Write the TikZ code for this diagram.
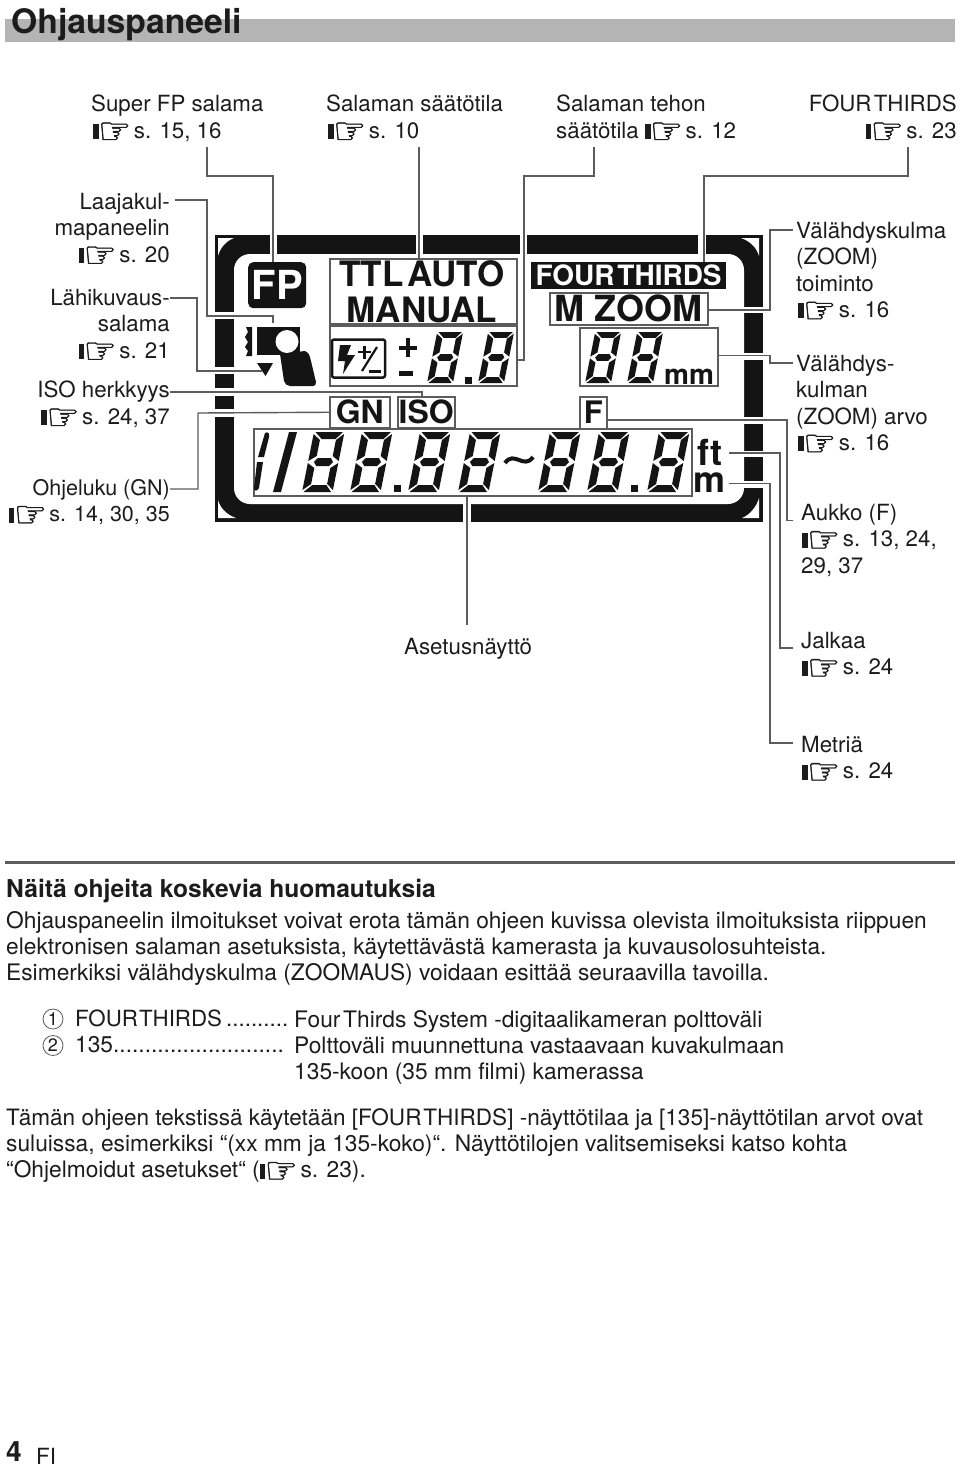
\documentclass[tikz,border=0pt]{standalone}
\usepackage{fontspec}
\setmainfont{TeX Gyre Heros}
\newfontfamily\handfont[FakeBold=1.2]{DejaVu Sans}
\newcommand{\fsz}[2]{\fontsize{#1}{#2}\selectfont}
\newcommand{\hnd}{\makebox[34.5pt][l]{\smash{\rule[-1pt]{5.5pt}{15pt}\kern-0.5pt\raisebox{-5.5pt}{\handfont\fontsize{37}{37}\selectfont ☞}}}}
\newcommand{\fl}{\rule{0pt}{16pt}}
\newcommand{\sevenseg}[3]{%
\begin{scope}[shift={(#1,#2)},xscale=#3,yscale=#3,xslant=0.2]
\fill[lcdink] (1.5,-60)--(29,-60)--(23,-53)--(9,-53)--cycle;
\fill[lcdink] (1.5,0)--(29,0)--(23,-7)--(9,-7)--cycle;
\fill[lcdink] (9,-34)--(22,-34)--(25,-30)--(22,-26)--(9,-26)--(6,-30)--cycle;
\fill[lcdink] (0,-58)--(7.5,-52)--(7.5,-36)--(0,-31)--cycle;
\fill[lcdink] (30.5,-58)--(23.5,-52)--(23.5,-36)--(30.5,-31)--cycle;
\fill[lcdink] (0,-29)--(7.5,-24)--(7.5,-8)--(0,-2)--cycle;
\fill[lcdink] (30.5,-29)--(23.5,-24)--(23.5,-8)--(30.5,-2)--cycle;
\end{scope}}
\definecolor{lcdink}{HTML}{141414}
\definecolor{leadgray}{HTML}{5C5C5C}
\definecolor{inkgray}{HTML}{1C1C1C}
\definecolor{barbg}{HTML}{B4B4B4}
\tikzset{
 lead/.style={draw=leadgray,line width=1.4pt},
 lcdbox/.style={draw=leadgray,line width=1.5pt,inner sep=0pt,text=lcdink},
 lbl/.style={inner sep=0pt,text=inkgray,font=\fsz{22.3}{26.3}},
 lblr/.style={lbl,anchor=north east,align=right},
 lbll/.style={lbl,anchor=north west,align=left},
 bodytxt/.style={lbll,font=\fsz{22.75}{26.3}},
 gapw/.style={fill=white},
}
\begin{document}
\begin{tikzpicture}[x=1pt,y=-1pt]
\useasboundingbox (0,0) rectangle (960,1465);
% header
\fill[barbg] (5,19) rectangle (955,42);
\node[lbll,font=\fsz{33.7}{36}\bfseries] (title) at (11,4) {\rule{0pt}{29pt}Ohjauspaneeli};
% labels top
\node[lbll] (lsuper) at (91,95) {\fl Super FP salama\\\hspace{2pt}\hnd\ s. 15, 16};
\node[lbll] (lsaat) at (326,95) {\fl Salaman säätötila\\\hspace{2pt}\hnd\ s. 10};
\node[lbll] (lteho) at (556,95) {\fl Salaman tehon\\säätötila \hnd\ s. 12};
\node[lblr] (lfour) at (957,95) {\fl FOUR\hspace{0.1em}THIRDS\\\hnd\ s. 23};
% labels left
\node[lblr] (llaaja) at (170,193) {\fl Laajakul-\\mapaneelin\\\hnd\ s. 20};
\node[lblr] (llahi) at (170,289) {\fl Lähikuvaus-\\salama\\\hnd\ s. 21};
\node[lblr] (liso) at (170,381) {\fl ISO herkkyys\\\hnd\ s. 24, 37};
\node[lblr,font=\fsz{21.5}{26.3}] (lgn) at (170,479) {\fl Ohjeluku (GN)\\\hnd\ s. 14, 30, 35};
% labels right
\node[lbll] (lkulma) at (796,222) {\fl Välähdyskulma\\(ZOOM)\\toiminto\\\hspace{2pt}\hnd\ s. 16};
\node[lbll] (larvo) at (796,355) {\fl Välähdys-\\kulman\\(ZOOM) arvo\\\hspace{2pt}\hnd\ s. 16};
\node[lbll] (laukko) at (801,504) {\fl Aukko (F)\\\hspace{1pt}\hnd\ s. 13, 24,\\29, 37};
\node[lbll] (ljalka) at (801,632) {\fl Jalkaa\\\hspace{1pt}\hnd\ s. 24};
\node[lbll] (lmetri) at (801,736) {\fl Metriä\\\hspace{1pt}\hnd\ s. 24};
\node[lbll] (lasetus) at (404,638) {\fl Asetusnäyttö};
% frame
\fill[lcdink] (215,235) rectangle (763,522);
\fill[white,rounded corners=16pt] (234,254) rectangle (744,504);
\fill[white] (218,238) -- (234,238) .. controls (226,241) and (220,248) .. (218,256) -- cycle;
\fill[white] (759,238) -- (741,238) .. controls (750,241) and (757,248) .. (759,256) -- cycle;
\fill[white] (218,518) -- (236,518) .. controls (227,515) and (220,508) .. (218,500) -- cycle;
\fill[white] (759,518) -- (742,518) .. controls (750,515) and (757,506) .. (759,498) -- cycle;
\foreach \a/\b in {270/277,416/422.5,520/527,698/706} {\fill[gapw] (\a,234) rectangle (\b,255);}
\fill[gapw] (463,503) rectangle (471,523);
\foreach \a/\b in {312/319,367/374,388/396,409/417} {\fill[gapw] (214,\a) rectangle (235,\b);}
\foreach \a/\b in {307/313,353/360,417/424,451/457,481/488} {\fill[gapw] (743,\a) rectangle (764,\b);}
% LCD boxes
\node[lcdbox,anchor=north west,minimum width=187pt,minimum height=65pt] (bttl) at (329,258) {};
\node[lcdbox,anchor=north west,minimum width=187pt,minimum height=60pt] (bcomp) at (329,325) {};
\node[lcdbox,anchor=north west,minimum width=60pt,minimum height=31pt,text height=23pt,text depth=0pt,font=\bfseries\fsz{32}{32}] (bgn) at (329,396) {GN};
\node[lcdbox,anchor=north west,minimum width=57pt,minimum height=31pt,text height=23pt,text depth=0pt,font=\bfseries\fsz{32}{32}] (biso) at (397,396) {ISO};
\node[lcdbox,anchor=north west,minimum width=438pt,minimum height=67pt] (bbig) at (253,428) {};
\node[anchor=north west,fill=lcdink,inner sep=0pt,minimum width=195pt,minimum height=27pt,text=white,font=\fsz{28}{28}\bfseries,text height=20pt,text depth=0pt] (bfour) at (531,262) {FOUR\hspace{0.1em}THIRDS};
\node[lcdbox,anchor=north west,minimum width=158pt,minimum height=32pt,text height=25pt,text depth=0pt,font=\bfseries\fsz{36}{36}] (bzoom) at (549,292) {M ZOOM};
\node[lcdbox,anchor=north west,minimum width=138pt,minimum height=58pt] (bmm) at (579,327) {};
\node[lcdbox,anchor=north west,minimum width=27pt,minimum height=32pt,text height=22pt,text depth=0pt,font=\bfseries\fsz{31}{31}] (bf) at (579,396) {F};
\node[inner sep=0pt,text=lcdink,font=\bfseries\fsz{35}{35}] (tttl) at (422,274) {TTL\hspace{0.1em}AUTO};
\node[inner sep=0pt,text=lcdink,font=\bfseries\fsz{35}{35},anchor=base] (tman) at (422,322) {MANUAL};
% FP
\node[fill=lcdink,rounded corners=5pt,anchor=north west,inner sep=0pt,minimum width=58pt,minimum height=46pt,text=white,font=\fsz{40}{40}\bfseries,text height=29pt,text depth=0pt] (fp) at (248,262) {FP};
% macro icon
\coordinate (macro) at (262,323);
\fill[lcdink] (257,327) rectangle (300,355);
\fill[white] (287,341.5) circle (11.5);
\fill[lcdink] (280,354) -- (305,351) .. controls (308,352) and (309,354) .. (310,357) -- (316,382) .. controls (316,385) and (315,386) .. (313,386) -- (290,386) .. controls (287,386) and (285,384) .. (284,381) -- cycle;
\fill[lcdink] (257,363) -- (273,363) -- (265.5,376) -- cycle;
\fill[lcdink] (246,327) -- (252,327) -- (252,356) -- (246,356) -- (248,351) -- (245,347) -- (248,342) -- (245,337) -- (248,332) -- cycle;
% flash comp icon
\draw[lcdink,line width=2.5pt,rounded corners=2pt] (332,339.5) rectangle (385,377.5);
\fill[lcdink] (340,345) -- (351,345) -- (347,355) -- (355,355) -- (343,374) -- (345,361) -- (338,361) -- cycle;
\draw[lcdink,line width=2.5pt] (358,352) -- (371,352) (364.5,345.5) -- (364.5,358.5);
\draw[lcdink,line width=2.2pt] (377,347) -- (362,371);
\draw[lcdink,line width=3pt] (369,371) -- (381,371);
\draw[lcdink,line width=4pt] (399,347.5) -- (417,347.5) (408,338) -- (408,357);
\draw[lcdink,line width=5pt] (399,373) -- (413,373);
% digits
\sevenseg{427}{383}{0.85}
\sevenseg{478}{383}{0.85}
\fill[lcdink] (465,377) rectangle (472,384);
\sevenseg{585}{383}{0.85}
\sevenseg{627}{383}{0.85}
\sevenseg{302}{492}{1}
\sevenseg{350}{492}{1}
\fill[lcdink] (394,485) rectangle (401,492);
\sevenseg{408}{492}{1}
\sevenseg{458}{492}{1}
\sevenseg{538}{492}{1}
\sevenseg{587}{492}{1}
\fill[lcdink] (631,485) rectangle (638,492);
\sevenseg{647}{492}{1}
\fill[lcdink] (265,433) .. controls (268,431) and (270,434) .. (269,437) -- (264,457) -- (258,457) -- cycle;
\fill[lcdink] (257,462) -- (263,462) -- (259,488) .. controls (257,492) and (254,491) .. (254,488) -- cycle;
\fill[lcdink] (289,432) -- (297,432) -- (281,492) -- (273,492) -- cycle;
\draw[lcdink,line width=4pt] (505,463) .. controls (514,450) and (524,470) .. (533,457);
\node[inner sep=0pt,text=lcdink,font=\fsz{28}{28},anchor=base] (tmm) at (689,384) {\bfseries mm};
\node[inner sep=0pt,text=lcdink,font=\fsz{36}{36}\bfseries,anchor=base] (tft) at (710,465) {ft};
\node[inner sep=0pt,text=lcdink,font=\fsz{36}{36}\bfseries,anchor=base] (tm) at (709,492) {m};
% connector ends
\coordinate (csuper) at (207,147);
\coordinate (csaat) at (419,147);
\coordinate (cteho) at (594,147);
\coordinate (cfour) at (908,147);
\coordinate (claaja) at (175,200);
\coordinate (clahi) at (170,298);
\coordinate (ciso) at (170,392);
\coordinate (cgn) at (170,489);
\coordinate (ckulma) at (793,230);
\coordinate (carvo) at (793,363);
\coordinate (caukko) at (793,520.5);
\coordinate (cjalka) at (793,648);
\coordinate (cmetri) at (793,743);
\coordinate (casetus) at (467,625);
\coordinate (ctri) at (262,371);
% connectors
\draw[lead] (csuper) -- (207,176) -- (273,176) -- (273,176 |- fp.north);
\draw[lead] (csaat) -- (csaat |- bttl.north);
\draw[lead] (cteho) -- (594,176) -- (524,176) -- (524,360) -- (bcomp.east |- 524,360);
\draw[lead] (cfour) -- (908,176) -- (704,176) -- (704,176 |- bfour.north);
\draw[lead] (claaja) -- (207,200) -- (207,316) -- (273,316) -- (273,323);
\draw[lead] (clahi) -- (197,298) -- (197,371) -- (ctri);
\draw[lead] (ciso) -- (422,392) -- (422,392 |- biso.north);
\draw[lead] (cgn) -- (198,489) -- (198,413) -- (bgn.west);
\draw[lead] (ckulma) -- (770,230) -- (770,310) -- (bzoom.east |- 770,310);
\draw[lead] (carvo) -- (770,363) -- (770,355.5) -- (bmm.east |- 770,355.5);
\draw[lead] (caukko) -- (787,520.5) -- (787,420) -- (bf.east |- 787,420);
\draw[lead] (cjalka) -- (780,648) -- (780,453) -- (729,453);
\draw[lead] (cmetri) -- (770,743) -- (770,483.5) -- (729,483.5);
\draw[lead] (casetus) -- (casetus |- bbig.south);
% notes
\draw[draw=leadgray,line width=3pt] (5,862.5) -- (955,862.5);
\node[lbll,font=\fsz{24.6}{26.3}\bfseries] (nhead) at (6,879) {\fl Näitä ohjeita koskevia huomautuksia};
\node[bodytxt] (nbody) at (6,911) {\fl Ohjauspaneelin ilmoitukset voivat erota tämän ohjeen kuvissa olevista ilmoituksista riippuen\\elektronisen salaman asetuksista, käytettävästä kamerasta ja kuvausolosuhteista.\\Esimerkiksi välähdyskulma (ZOOMAUS) voidaan esittää seuraavilla tavoilla.};
\node[circle,draw=leadgray,line width=0.8pt,inner sep=0pt,minimum size=20pt,font=\fsz{18}{18},text=inkgray] (n1) at (53,1019) {1};
\node[circle,draw=leadgray,line width=0.8pt,inner sep=0pt,minimum size=20pt,font=\fsz{18}{18},text=inkgray] (n2) at (53,1045.5) {2};
\node[lbll] (i1a) at (75,1010) {\fl FOUR\hspace{0.05em}THIRDS\kern-2pt\ ..........};
\node[bodytxt] (i2a) at (75,1036.5) {\fl 135...........................};
\node[bodytxt] (i1b) at (294,1010) {\fl Four\hspace{0.12em}Thirds System -digitaalikameran polttoväli};
\node[bodytxt] (i2b) at (294,1036.5) {\fl Polttoväli muunnettuna vastaavaan kuvakulmaan\\135-koon (35 mm filmi) kamerassa};
\node[bodytxt] (nfoot) at (6,1108) {\fl {\fsz{22.55}{26.3}Tämän ohjeen tekstissä käytetään [FOUR\hspace{0.08em}THIRDS] -näyttötilaa ja [135]-näyttötilan arvot ovat}\\suluissa, esimerkiksi “(xx mm ja 135-koko)“. Näyttötilojen valitsemiseksi katso kohta\\“Ohjelmoidut asetukset“ (\hnd\ s. 23).};
\node[lbl,anchor=base west,font=\fsz{28}{28}\bfseries] (pnum) at (6,1461) {4};
\node[lbl,anchor=base west] (plang) at (36,1464) {FI};
\end{tikzpicture}
\end{document}
